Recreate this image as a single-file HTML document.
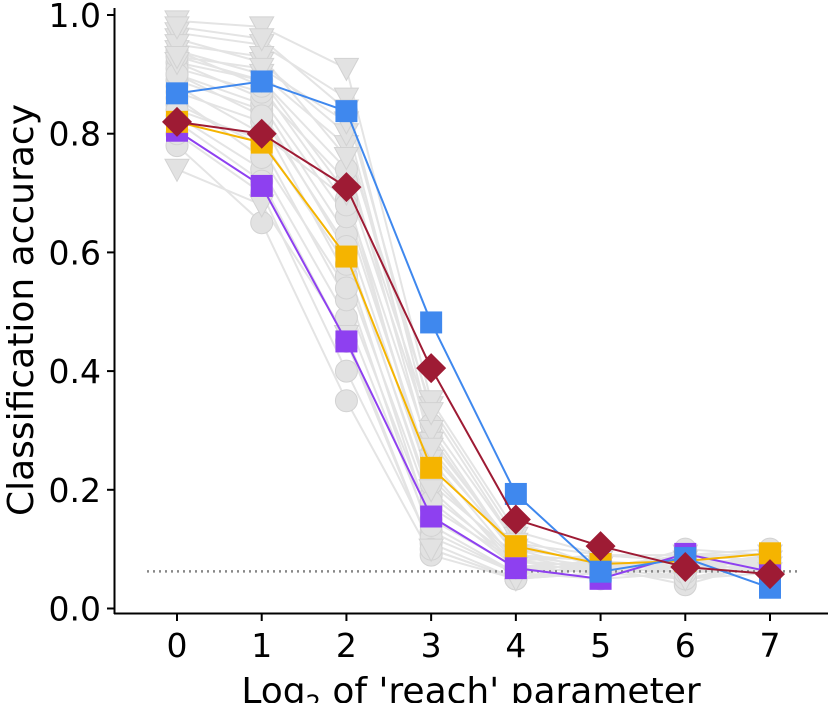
<!DOCTYPE html>
<html><head><meta charset="utf-8">
<style>
html,body{margin:0;padding:0;background:#fff;}
svg{display:block;font-family:"DejaVu Sans","Liberation Sans",sans-serif;}
</style></head>
<body>
<svg id="chart" width="830" height="703" viewBox="0 0 830 703"></svg>
<script>
const categories=[0,1,2,3,4,5,6,7];
const yTicks=[0.0,0.2,0.4,0.6,0.8,1.0];
const chanceLevel=0.0625;
const blueValues=[0.868,0.888,0.838,0.482,0.193,0.062,0.085,0.035];
const orangeValues=[0.82,0.785,0.593,0.237,0.105,0.075,0.08,0.093];
const purpleValues=[0.805,0.712,0.45,0.155,0.068,0.05,0.092,0.062];
const redValues=[0.82,0.80,0.71,0.405,0.15,0.105,0.07,0.058];
const grayCircleSeries=[
[0.78,0.65,0.35,0.09,0.05,0.06,0.05,0.07],
[0.80,0.70,0.40,0.11,0.05,0.07,0.04,0.08],
[0.83,0.74,0.49,0.13,0.06,0.08,0.06,0.09],
[0.85,0.78,0.52,0.15,0.07,0.06,0.07,0.06],
[0.87,0.82,0.56,0.17,0.08,0.07,0.08,0.07],
[0.89,0.84,0.60,0.19,0.08,0.09,0.09,0.10],
[0.90,0.85,0.63,0.21,0.09,0.08,0.05,0.08],
[0.92,0.86,0.66,0.23,0.07,0.07,0.06,0.07],
[0.88,0.80,0.69,0.26,0.10,0.06,0.10,0.09],
[0.91,0.87,0.72,0.29,0.09,0.08,0.07,0.06],
[0.86,0.76,0.54,0.12,0.06,0.05,0.06,0.08],
[0.93,0.89,0.74,0.31,0.11,0.09,0.08,0.07],
[0.84,0.79,0.58,0.14,0.06,0.07,0.05,0.06],
[0.90,0.83,0.61,0.18,0.07,0.06,0.09,0.08],
[0.82,0.72,0.45,0.10,0.05,0.08,0.06,0.09],
[0.94,0.88,0.68,0.22,0.08,0.07,0.07,0.07]];
const grayTriangleSeries=[
[0.74,0.68,0.46,0.10,0.05,0.06,0.07,0.08],
[0.94,0.90,0.78,0.34,0.12,0.07,0.09,0.09],
[0.96,0.92,0.80,0.28,0.10,0.08,0.06,0.07],
[0.99,0.98,0.91,0.35,0.13,0.09,0.08,0.08],
[0.97,0.95,0.86,0.30,0.09,0.07,0.07,0.09],
[0.95,0.93,0.76,0.25,0.08,0.06,0.08,0.06],
[0.92,0.89,0.70,0.20,0.07,0.08,0.05,0.07],
[0.98,0.96,0.84,0.33,0.11,0.07,0.09,0.08],
[0.93,0.91,0.82,0.27,0.09,0.06,0.07,0.08]];
const xLabels=["0","1","2","3","4","5","6","7"];

const NS="http://www.w3.org/2000/svg";
const svg=document.getElementById('chart');
const X0=177,X7=770,Y0=608.5,Y1=15;
function xS(i){return X0+(X7-X0)*i/7;}
function yS(v){return Y0-(Y0-Y1)*v;}
function mk(tag,attrs,parent){const e=document.createElementNS(NS,tag);for(const k in attrs)e.setAttribute(k,attrs[k]);(parent||svg).appendChild(e);return e;}
function pts(vals){return vals.map((v,i)=>xS(categories[i])+','+yS(v)).join(' ');}

const gg=mk('g',{});


grayCircleSeries.concat(grayTriangleSeries).forEach(s=>{
  const l=mk('polyline',{points:pts(s),fill:'none',stroke:'#e4e4e4','stroke-width':2},gg);
  
  
});
grayCircleSeries.forEach(s=>s.forEach((v,i)=>{
  const c=mk('circle',{cx:xS(categories[i]),cy:yS(v),r:11,fill:'#e2e2e2',stroke:'#d2d2d2','stroke-width':1},gg);
  
  
}));
grayTriangleSeries.forEach(s=>s.forEach((v,i)=>{
  const x=xS(categories[i]),y=yS(v);
  const t=mk('polygon',{points:`${x-12},${y-10} ${x+12},${y-10} ${x},${y+12}`,fill:'#e2e2e2',stroke:'#d2d2d2','stroke-width':1},gg);
  
  
}));

const ch=mk('line',{x1:147,x2:800,y1:yS(chanceLevel),y2:yS(chanceLevel),stroke:'#888','stroke-width':2.5,'stroke-dasharray':'2,4'});



function series(vals,color,name,shape){
  const g=mk('g',{});
  
  
  mk('polyline',{points:pts(vals),fill:'none',stroke:color,'stroke-width':2},g);
  vals.forEach((v,i)=>{
    const x=xS(categories[i]),y=yS(v);
    let m;
    if(shape==='d') m=mk('polygon',{points:`${x},${y-15} ${x+15},${y} ${x},${y+15} ${x-15},${y}`,fill:color},g);
    else m=mk('rect',{x:x-11,y:y-11,width:22,height:22,fill:color},g);
    
    
  });
}
series(purpleValues,'#8e40f0','purple-series','s');
series(orangeValues,'#f5b400','orange-series','s');
series(blueValues,'#3f88ee','blue-series','s');
series(redValues,'#9e1b34','red-series','d');

const ax=mk('g',{});


mk('line',{x1:114.5,x2:114.5,y1:8,y2:614,stroke:'#000','stroke-width':2},ax);
mk('line',{x1:114,x2:828,y1:613.5,y2:613.5,stroke:'#000','stroke-width':2},ax);
yTicks.forEach(v=>{
  const y=yS(v);
  mk('line',{x1:107,x2:114,y1:y,y2:y,stroke:'#000','stroke-width':2},ax);
  const t=mk('text',{x:101,y:y+12,'text-anchor':'end','font-size':33,fill:'#000'},ax);
  t.textContent=v.toFixed(1);
  
  
});
categories.forEach((c,i)=>{
  const x=xS(c);
  mk('line',{x1:x,x2:x,y1:614,y2:621,stroke:'#000','stroke-width':2},ax);
  const t=mk('text',{x:x,y:657,'text-anchor':'middle','font-size':33,fill:'#000'},ax);
  t.textContent=xLabels[i];
  
  
});
const yl=mk('text',{x:0,y:0,transform:'translate(33,310) rotate(-90)','text-anchor':'middle','font-size':36,fill:'#000'});
yl.textContent='Classification accuracy';


const xl=mk('text',{x:471,y:703,'text-anchor':'middle','font-size':36,fill:'#000'});
xl.innerHTML='Log<tspan font-size="24" dy="9">2</tspan><tspan dy="-9"> of \'reach\' parameter</tspan>';


</script>
</body></html>
